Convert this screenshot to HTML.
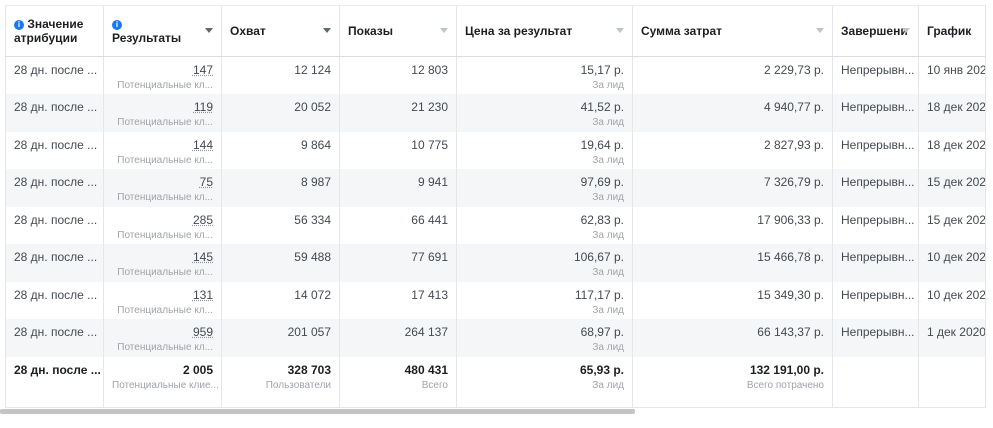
<!DOCTYPE html><html><head><meta charset="utf-8"><style>
body{margin:0;width:993px;height:428px;background:#fff;overflow:hidden;font-family:"Liberation Sans",sans-serif;font-size:12px;color:#444950;position:relative}
table{position:absolute;left:5px;top:5px;border-collapse:collapse;table-layout:fixed;width:980px}
td,th{border-right:1px solid #e4e6eb;padding:0 8px;overflow:hidden;white-space:nowrap;vertical-align:top}
th{height:50px;vertical-align:middle;text-align:left;font-weight:bold;font-size:12px;color:#1c1e21;border-bottom:1px solid #dadde1;border-top:1px solid #e9ebee;position:relative}
td{height:37.5px;box-sizing:border-box;padding-top:6px;text-align:right}
td.l{text-align:left}
tr.s td{background:#f5f6f7}
.sub{font-size:10px;color:#a0a3a8;margin-top:3px}
.u{text-decoration:underline dotted #90949c}
.ar{position:absolute;right:8px;top:22px;width:0;height:0;border-left:4px solid transparent;border-right:4px solid transparent;border-top:5px solid #606770}
.ar.g{border-top-color:#bec3c9}
.i{display:inline-block;width:10px;height:10px;border-radius:50%;background:#1877f2;color:#fff;font-size:8px;text-align:center;line-height:10px;vertical-align:1px}
tr.t td{font-weight:bold;color:#1c1e21;height:51px;border-bottom:1px solid #e4e6eb}
tr.t .sub{font-weight:normal;color:#a0a3a8}
td:first-child,th:first-child{border-left:1px solid #e4e6eb}
</style></head><body>
<table>
<colgroup><col style="width:98px"><col style="width:118px"><col style="width:118px"><col style="width:117px"><col style="width:176px"><col style="width:200px"><col style="width:86px"><col style="width:67px"></colgroup>
<tr><th><span class="i">i</span> Значение<br>атрибуции</th><th><span class="i">i</span><br>Результаты<span class="ar"></span></th><th>Охват<span class="ar"></span></th><th>Показы<span class="ar g"></span></th><th>Цена за результат<span class="ar g"></span></th><th>Сумма затрат<span class="ar g"></span></th><th>Завершени<span class="ar g"></span></th><th>График</th></tr>
<tr><td class="l">28 дн. после ...</td><td><span class="u">147</span><div class="sub">Потенциальные кл...</div></td><td>12 124</td><td>12 803</td><td>15,17 р.<div class="sub">За лид</div></td><td>2 229,73 р.</td><td class="l">Непрерывн...</td><td class="l">10 янв 202</td></tr>
<tr class="s"><td class="l">28 дн. после ...</td><td><span class="u">119</span><div class="sub">Потенциальные кл...</div></td><td>20 052</td><td>21 230</td><td>41,52 р.<div class="sub">За лид</div></td><td>4 940,77 р.</td><td class="l">Непрерывн...</td><td class="l">18 дек 202</td></tr>
<tr><td class="l">28 дн. после ...</td><td><span class="u">144</span><div class="sub">Потенциальные кл...</div></td><td>9 864</td><td>10 775</td><td>19,64 р.<div class="sub">За лид</div></td><td>2 827,93 р.</td><td class="l">Непрерывн...</td><td class="l">18 дек 202</td></tr>
<tr class="s"><td class="l">28 дн. после ...</td><td><span class="u">75</span><div class="sub">Потенциальные кл...</div></td><td>8 987</td><td>9 941</td><td>97,69 р.<div class="sub">За лид</div></td><td>7 326,79 р.</td><td class="l">Непрерывн...</td><td class="l">15 дек 202</td></tr>
<tr><td class="l">28 дн. после ...</td><td><span class="u">285</span><div class="sub">Потенциальные кл...</div></td><td>56 334</td><td>66 441</td><td>62,83 р.<div class="sub">За лид</div></td><td>17 906,33 р.</td><td class="l">Непрерывн...</td><td class="l">15 дек 202</td></tr>
<tr class="s"><td class="l">28 дн. после ...</td><td><span class="u">145</span><div class="sub">Потенциальные кл...</div></td><td>59 488</td><td>77 691</td><td>106,67 р.<div class="sub">За лид</div></td><td>15 466,78 р.</td><td class="l">Непрерывн...</td><td class="l">10 дек 202</td></tr>
<tr><td class="l">28 дн. после ...</td><td><span class="u">131</span><div class="sub">Потенциальные кл...</div></td><td>14 072</td><td>17 413</td><td>117,17 р.<div class="sub">За лид</div></td><td>15 349,30 р.</td><td class="l">Непрерывн...</td><td class="l">10 дек 202</td></tr>
<tr class="s"><td class="l">28 дн. после ...</td><td><span class="u">959</span><div class="sub">Потенциальные кл...</div></td><td>201 057</td><td>264 137</td><td>68,97 р.<div class="sub">За лид</div></td><td>66 143,37 р.</td><td class="l">Непрерывн...</td><td class="l">1 дек 2020</td></tr>
<tr class="t"><td class="l">28 дн. после ...</td><td>2 005<div class="sub">Потенциальные клие...</div></td><td>328 703<div class="sub">Пользователи</div></td><td>480 431<div class="sub">Всего</div></td><td>65,93 р.<div class="sub">За лид</div></td><td>132 191,00 р.<div class="sub">Всего потрачено</div></td><td></td><td></td></tr>
</table>
<div style="position:absolute;left:0;top:409px;width:635px;height:5px;background:#c4c4c4;border-radius:2px"></div>
</body></html>
